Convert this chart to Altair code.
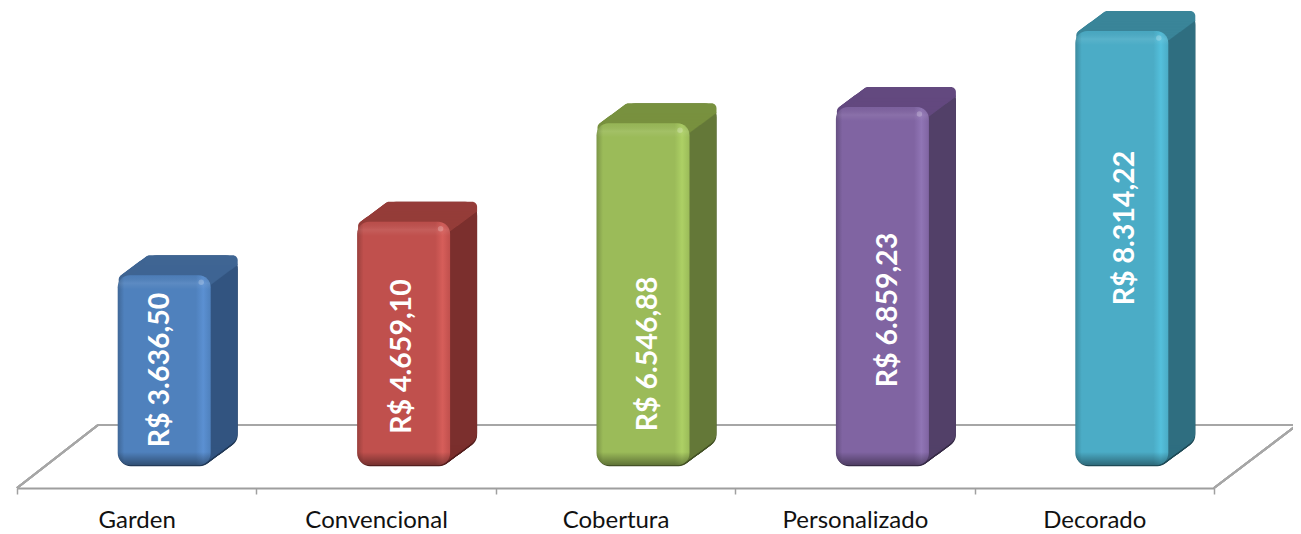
import altair as alt
import pandas as pd

categories = ["Garden", "Convencional", "Cobertura", "Personalizado", "Decorado"]
values = [3636.50, 4659.10, 6546.88, 6859.23, 8314.22]
labels = ["R$ 3.636,50", "R$ 4.659,10", "R$ 6.546,88", "R$ 6.859,23", "R$ 8.314,22"]
label_at = [1820, 2078, 2126, 2969, 4540]
label_shift = [23, 26, 32, 33, 31]
front = ["#4F81BD", "#C0504D", "#9BBB59", "#8064A2", "#4BACC6"]
light = ["#5B90D2", "#D65E5A", "#ADD065", "#9075B5", "#54C0DC"]
dark = ["#3F6797", "#9A403D", "#7C9647", "#665082", "#3C8A9E"]
top_c = ["#3F6593", "#953C39", "#78913F", "#63497F", "#3A8599"]
side_c = ["#325480", "#7B2F2D", "#647838", "#524068", "#2F6E80"]
edge_c = ["#223A58", "#541F1E", "#445226", "#372B47", "#1F4B57"]

W, H = 1197, 450
YMAX = 8621
PX = YMAX / H  # data units in one pixel
DEPTH = 27
RISE = 20 / 27
BAR = 93

df = pd.DataFrame({"cat": categories, "value": values, "label": labels, "label_at": label_at})
df["zero"] = 0.0
df["strip"] = df["value"] - 10 * PX
df["spot"] = df["value"] - 7 * PX

X = alt.X(
    "cat:N",
    sort=categories,
    scale=alt.Scale(domain=categories, paddingInner=0, paddingOuter=0),
    axis=alt.Axis(
        title=None, labelAngle=0, offset=23, tickBand="extent", tickSize=6, tickColor="#A0A0A0",
        tickWidth=1.5, domainColor="#9E9E9E", domainWidth=2, labelFont="Lato", labelFontSize=24,
        labelColor="#111111", labelPadding=14, grid=False,
    ),
)
yscale = alt.Scale(domain=[0, YMAX], nice=False)
Y = alt.Y("value:Q", scale=yscale, axis=None)
BASE = alt.Chart(df)
OFF = 27.5


def col(cols):
    return alt.Color("cat:N", scale=alt.Scale(domain=categories, range=cols), legend=None)


layers = []

# floor
floor = [(0, 473, 81, 410), (81, 410, 1280, 410), (1197, 473, 1280, 410)]
for x1, y1, x2, y2 in floor:
    layers.append(
        BASE.mark_rule(color="#A6A6A6", strokeWidth=2).encode(
            x=alt.value(x1), y=alt.value(y1), x2=alt.value(x2), y2=alt.value(y2)
        )
    )

for k in range(1, DEPTH + 1):
    dy = -k * RISE + 2
    layers.append(
        BASE.mark_bar(width=BAR, cornerRadius=12, xOffset=OFF + k, yOffset=dy, y2Offset=dy).encode(
            x=X, y=Y, y2="zero:Q", color=col(edge_c)
        )
    )
for k in range(1, DEPTH + 1):
    dy = -k * RISE
    layers.append(
        BASE.mark_bar(width=BAR, cornerRadius=12, xOffset=OFF + k, yOffset=dy, y2Offset=dy).encode(
            x=X, y=Y, y2="zero:Q", color=col(side_c)
        )
    )
for k in range(1, DEPTH + 1):
    dy = -k * RISE
    layers.append(
        BASE.mark_bar(width=BAR, cornerRadiusTopLeft=12, cornerRadiusTopRight=12, xOffset=OFF + k,
                      yOffset=dy, y2Offset=dy).encode(
            x=X, y=Y, y2="strip:Q", color=col(top_c)
        )
    )

for i, cat in enumerate(categories):
    sub = alt.Chart(df[df["cat"] == cat])
    h = values[i] / PX
    horiz = alt.Gradient(
        gradient="linear", x1=0, x2=1, y1=0, y2=0,
        stops=[
            alt.GradientStop(offset=0, color=dark[i]),
            alt.GradientStop(offset=0.07, color=front[i]),
            alt.GradientStop(offset=0.84, color=front[i]),
            alt.GradientStop(offset=0.92, color=light[i]),
            alt.GradientStop(offset=1, color=front[i]),
        ],
    )
    vert = alt.Gradient(
        gradient="linear", x1=0, x2=0, y1=0, y2=1,
        stops=[
            alt.GradientStop(offset=0, color="rgba(0,0,0,0.03)"),
            alt.GradientStop(offset=8 / h, color="rgba(255,255,255,0.08)"),
            alt.GradientStop(offset=14 / h, color="rgba(255,255,255,0)"),
            alt.GradientStop(offset=1 - 13 / h, color="rgba(0,0,0,0)"),
            alt.GradientStop(offset=1, color="rgba(0,0,0,0.38)"),
        ],
    )
    layers.append(sub.mark_bar(width=BAR, cornerRadius=12, xOffset=OFF, color=horiz).encode(x=X, y=Y, y2="zero:Q"))
    layers.append(sub.mark_bar(width=BAR, cornerRadius=12, xOffset=OFF, color=vert).encode(x=X, y=Y, y2="zero:Q"))
    layers.append(
        sub.mark_circle(size=30, color="#FFFFFF", opacity=0.22, xOffset=OFF + 37).encode(
            x=X, y=alt.Y("spot:Q", scale=yscale, axis=None)
        )
    )
    layers.append(
        sub.mark_text(font="Lato", fontWeight="bold", fontSize=28.5, color="#FFFFFF", angle=270,
                      xOffset=label_shift[i], baseline="middle", align="center").encode(
            x=X,
            y=alt.Y("label_at:Q", scale=yscale, axis=None),
            text="label:N",
        )
    )

chart = (
    alt.layer(*layers)
    .resolve_scale(color="independent")
    .properties(
        width=W, height=H,
        autosize=alt.AutoSizeParams(type="none"),
        padding={"left": 9, "top": 7, "right": 79, "bottom": 69},
        background="white",
    )
    .configure_view(stroke=None)
)
chart.save("out.html", embed_options={"renderer": "svg", "actions": False})
